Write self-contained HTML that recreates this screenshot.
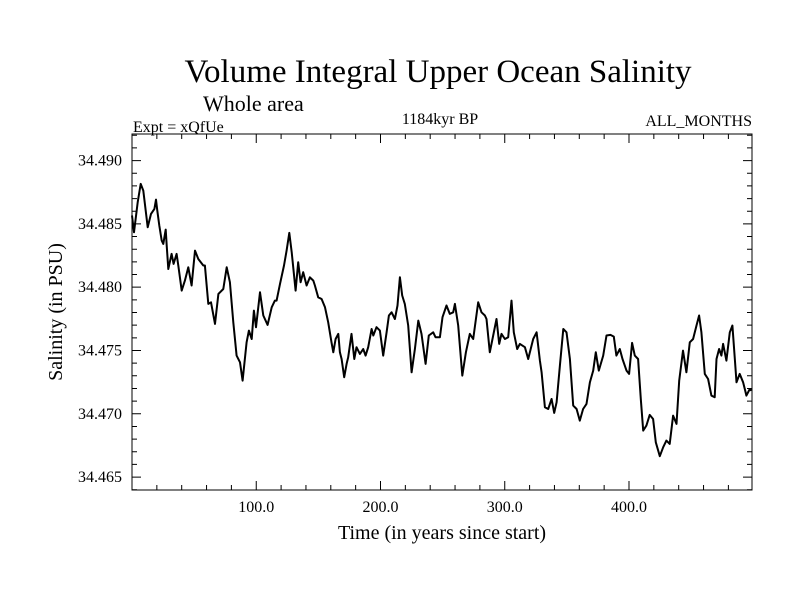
<!DOCTYPE html>
<html><head><meta charset="utf-8"><style>
body{margin:0;background:#fff;}
svg text{font-family:"Liberation Serif",serif;fill:#000;}
</style></head><body>
<svg id="chart" width="800" height="600" xmlns="http://www.w3.org/2000/svg">
<text x="438" y="82" font-size="33" text-anchor="middle">Volume Integral Upper Ocean Salinity</text>
<text x="203" y="111" font-size="22">Whole area</text>
<text x="133" y="132" font-size="16">Expt = xQfUe</text>
<text x="440" y="124" font-size="16" text-anchor="middle">1184kyr BP</text>
<text x="752" y="126" font-size="16" text-anchor="end">ALL_MONTHS</text>
<text transform="translate(62,312) rotate(-90)" font-size="20" text-anchor="middle">Salinity (in PSU)</text>
<text x="442" y="539" font-size="20" text-anchor="middle">Time (in years since start)</text>
<g id="axes"></g>
<rect x="132" y="134" width="620" height="356" fill="none" stroke="#000" stroke-width="1"/>
</svg>
<script>
const years=[0,1.6,4.6,7.0,9.1,12.6,15.3,18.0,19.3,20.4,22.0,23.9,25.2,27.1,27.9,29.2,31.9,33.5,35.9,37.3,40.0,42.6,45.3,48.0,50.7,53.4,57.4,58.7,61.4,63.6,66.8,69.5,73.5,76.2,78.8,81.5,84.2,86.9,89.0,92.2,94.1,96.3,98.1,99.8,103.0,105.7,109.1,112.4,115.0,116.4,119.1,122.3,124.4,126.6,128.5,131.7,133.8,135.7,137.8,140.5,143.2,145.9,147.2,149.9,152.6,155.3,157.9,160.6,162.0,163.9,166.0,167.3,168.7,170.8,172.7,174.0,176.7,178.9,180.7,183.4,186.1,188.0,190.1,192.8,194.2,196.8,199.5,202.2,204.9,206.8,208.9,211.6,213.7,215.6,217.5,219.6,222.3,225.0,227.7,230.4,233.0,236.3,238.9,242.4,244.3,247.8,249.9,253.1,255.8,258.5,259.9,262.5,265.8,268.7,271.9,274.6,278.6,281.3,284.0,285.3,288.0,290.7,293.4,295.5,297.4,300.1,302.8,305.4,307.3,310.0,312.2,316.2,318.9,322.9,325.6,328.3,329.7,332.3,335.0,337.7,339.8,341.7,344.4,347.1,349.7,352.4,355.1,357.8,360.4,363.1,365.8,368.5,371.2,373.3,375.7,379.2,381.9,385.1,387.8,389.9,392.6,394.8,398.0,400.1,402.5,404.7,407.3,409.5,411.4,414.0,416.7,419.4,421.6,424.8,427.5,430.1,432.8,434.2,435.5,438.2,440.4,443.5,446.2,448.9,451.6,454.3,456.4,458.3,461.0,463.7,466.3,469.0,470.4,472.5,474.4,475.7,478.4,481.1,483.2,485.1,486.5,489.1,491.8,493.2,494.5,497.2,498.6];
const salinity=[34.48566,34.48434,34.48671,34.48816,34.48763,34.48473,34.48579,34.48618,34.48692,34.48605,34.48487,34.48368,34.48342,34.48455,34.48329,34.48144,34.48263,34.48184,34.48263,34.48171,34.47973,34.48052,34.48157,34.48013,34.48289,34.48223,34.48171,34.48171,34.47868,34.47881,34.4771,34.47947,34.47986,34.48157,34.48039,34.47723,34.4746,34.47407,34.47262,34.47565,34.47657,34.47591,34.47815,34.47684,34.4796,34.47776,34.47702,34.47841,34.47894,34.47894,34.48026,34.48171,34.48289,34.48429,34.48276,34.47973,34.48197,34.48039,34.48118,34.48013,34.48078,34.48052,34.48013,34.4792,34.47907,34.47841,34.47723,34.47565,34.47486,34.47591,34.47631,34.47486,34.47433,34.47289,34.47394,34.47447,34.47631,34.47433,34.47526,34.47473,34.47512,34.4746,34.47526,34.4767,34.47618,34.47684,34.47657,34.4746,34.47644,34.47776,34.47802,34.47749,34.47855,34.48078,34.47934,34.47868,34.47697,34.47328,34.47512,34.47736,34.47631,34.47394,34.47618,34.47644,34.47605,34.47605,34.47763,34.47855,34.47789,34.47802,34.47868,34.47697,34.47302,34.47486,34.47631,34.47591,34.47881,34.47802,34.47776,34.47749,34.47486,34.47618,34.47749,34.47552,34.47631,34.47591,34.47605,34.47894,34.47644,34.47512,34.47552,34.47526,34.47433,34.47591,34.47644,34.4742,34.47328,34.47052,34.47038,34.47117,34.47007,34.47091,34.47381,34.4767,34.47644,34.47433,34.47065,34.47038,34.46946,34.47038,34.47078,34.47249,34.47341,34.47486,34.47341,34.4746,34.47618,34.47623,34.4761,34.4746,34.47512,34.47433,34.47341,34.47315,34.4756,34.4746,34.47433,34.47117,34.46867,34.46907,34.46991,34.46959,34.46775,34.46665,34.46736,34.46788,34.46762,34.4688,34.46986,34.4692,34.47262,34.47499,34.47328,34.47565,34.47591,34.47697,34.47776,34.47644,34.47315,34.47275,34.47144,34.47131,34.47433,34.47512,34.4746,34.47552,34.4742,34.47644,34.47697,34.47447,34.47249,34.47315,34.47249,34.47196,34.47144,34.47196,34.47183];
const xTickValues=[100,200,300,400];
const xTickLabels=["100.0","200.0","300.0","400.0"];
const yTickValues=[34.465,34.470,34.475,34.480,34.485,34.490];
const yTickLabels=["34.465","34.470","34.475","34.480","34.485","34.490"];

const L=132,R=752,T=134,B=490;
const X0=0,X1=499,YMIN=34.46398,YMAX=34.4921;
function xs(v){return L+(v-X0)/(X1-X0)*(R-L);}
function ys(v){return B-(v-YMIN)/(YMAX-YMIN)*(B-T);}
const NS="http://www.w3.org/2000/svg";
const g=document.getElementById('axes');
function mk(tag,attrs){const e=document.createElementNS(NS,tag);for(const k in attrs)e.setAttribute(k,attrs[k]);return e;}
let d="";
for(let v=20;v<X1;v+=20){const major=v%100===0;const len=major?9:5;const x=xs(v);d+=`M${x},${B}V${B-len}M${x},${T}V${T+len}`;}
for(let i=-1;i<=28;i++){const v=34.465+i*0.001;if(v>YMAX||v<YMIN)continue;const major=((i%5)+5)%5===0;const len=major?9:5;const y=ys(v);d+=`M${L},${y}H${L+len}M${R},${y}H${R-len}`;}
const ticks=mk('path',{d:d,stroke:'#000','stroke-width':1,fill:'none'});


g.appendChild(ticks);
xTickValues.forEach((v,i)=>{const t=mk('text',{x:xs(v),y:512,'font-size':16,'text-anchor':'middle'});t.textContent=xTickLabels[i];


g.appendChild(t);});
yTickValues.forEach((v,i)=>{const t=mk('text',{x:122,y:ys(v)+5,'font-size':16,'text-anchor':'end'});t.textContent=yTickLabels[i];


g.appendChild(t);});
let p="";
years.forEach((yr,i)=>{p+=(i?"L":"M")+xs(yr).toFixed(1)+","+ys(salinity[i]).toFixed(1);});
const line=mk('path',{d:p,stroke:'#000','stroke-width':2,fill:'none','stroke-linejoin':'round'});


g.appendChild(line);
</script>
</body></html>
